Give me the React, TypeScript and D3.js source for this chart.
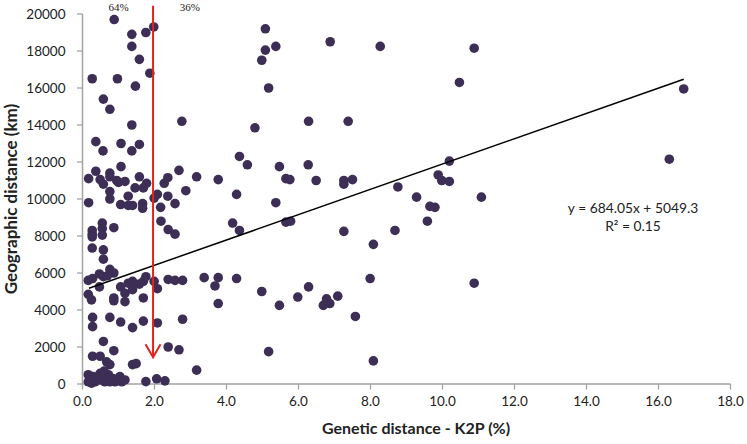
import React from "react";
import * as d3 from "d3";

// Genetic distance (K2P %) values
const geneticDistance: number[] = [
  0.88, 1.98, 1.37, 1.76, 1.37, 1.58, 1.87, 0.27, 0.97, 1.47,
  0.58, 0.76, 1.37, 2.76, 0.37, 1.07, 1.58, 0.57, 1.37, 1.07,
  0.37, 2.68, 0.17, 0.76, 0.49, 0.58, 0.76, 0.95, 1.0, 1.18,
  1.58, 1.46, 1.69, 1.78, 0.76, 1.27, 2.08, 2.27, 2.37, 2.37,
  2.87, 3.17, 3.77, 4.36, 4.58, 4.28, 0.17, 0.76, 1.06, 1.27,
  1.39, 1.67, 1.67, 1.99, 2.17, 2.57, 2.18, 2.38, 2.57, 4.17,
  4.36, 0.27, 0.27, 0.27, 0.55, 0.55, 0.55, 0.87, 0.27, 0.58,
  0.58, 0.76, 0.87, 0.47, 0.16, 0.28, 0.58, 0.69, 0.47, 1.06,
  1.27, 1.39, 1.18, 1.39, 1.58, 1.69, 1.76, 1.99, 2.08, 2.38,
  2.57, 2.78, 3.38, 3.68, 3.77, 4.28, 3.77, 0.16, 0.25, 0.87,
  0.87, 1.18, 1.69, 0.28, 0.28, 0.76, 1.06, 1.39, 1.69, 2.08,
  2.78, 0.58, 0.87, 2.38, 2.68, 0.28, 0.49, 0.67, 0.76, 1.39,
  1.49, 3.17, 1.76, 2.06, 2.29, 0.16, 0.16, 0.3, 0.35, 0.49,
  0.49, 0.62, 0.72, 0.76, 0.9, 1.04, 1.09, 1.18, 0.3, 0.6,
  0.85, 0.55, 0.25, 4.79, 5.47, 6.27, 5.65, 5.76, 6.49, 7.26,
  7.26, 7.5, 5.37, 5.65, 5.78, 7.26, 8.08, 8.68, 8.76, 5.08,
  5.08, 4.98, 5.37, 5.17, 6.88, 8.27, 10.47, 6.28, 7.38, 9.28,
  9.88, 9.98, 10.19, 10.19, 9.65, 9.79, 9.58, 4.98, 5.47, 5.98,
  6.28, 6.69, 6.78, 6.87, 7.09, 7.58, 7.99, 5.17, 8.08, 10.88,
  16.7, 11.08, 16.3, 10.88,
];

// Geographic distance (km) values
const geographicDistance: number[] = [
  19700, 19300, 18900, 19000, 18250, 17550, 16800, 16500, 16500, 16100,
  15400, 14850, 14000, 14200, 13100, 13000, 12950, 12600, 12600, 11750,
  11500, 11550, 11100, 11400, 11050, 10800, 11200, 11000, 10900, 10950,
  11200, 10600, 10600, 10850, 10400, 10150, 10250, 10850, 11150, 10150,
  10450, 11200, 11050, 12300, 11850, 10250, 9800, 10000, 9700, 9650,
  9650, 9750, 9500, 10050, 9550, 9750, 8800, 8350, 8100, 8700,
  8300, 8300, 8100, 7950, 8700, 8400, 8050, 8450, 7350, 7250,
  6750, 6200, 6000, 5950, 5600, 5700, 5800, 5850, 5250, 5250,
  5450, 5550, 4900, 5100, 5400, 5550, 5800, 5550, 5150, 5650,
  5600, 5600, 5750, 5300, 5750, 5700, 4350, 4850, 4550, 4650,
  4500, 4450, 4650, 3600, 3100, 3600, 3350, 3050, 3400, 3300,
  3500, 2300, 1800, 2000, 1850, 1500, 1500, 1200, 1050, 1050,
  1100, 750, 130, 280, 170, 500, 120, 400, 120, 580,
  220, 120, 500, 120, 120, 400, 120, 220, 250, 700,
  300, 400, 50, 13850, 11750, 11850, 11100, 11050, 11000, 11000,
  10800, 11050, 9800, 8750, 8800, 8250, 7550, 8300, 10650, 19200,
  18050, 17500, 18250, 16000, 18500, 18250, 16300, 14200, 14200, 10100,
  11300, 11000, 10950, 12050, 9600, 9550, 8800, 5000, 4250, 4700,
  5250, 4250, 4600, 4350, 4750, 3650, 5700, 1750, 1250, 18150,
  15950, 10100, 12150, 5450,
];

const xTicks: number[] = [0, 2, 4, 6, 8, 10, 12, 14, 16, 18];
const yTicks: number[] = [0, 2000, 4000, 6000, 8000, 10000, 12000, 14000, 16000, 18000, 20000];

const trendSlope = 684.05;
const trendIntercept = 5049.3;
const trendRange: number[] = [0.18, 16.7];

const arrowX = 1.96;
const arrowTopY = 20450;
const arrowTipY = 1450;

const shareLabels: string[] = ["64%", "36%"];
const shareLabelX: number[] = [1.0, 2.98];

const WIDTH = 747;
const HEIGHT = 444;

export default function App() {
  const x = d3.scaleLinear().domain([0, 18]).range([82.5, 730.5]);
  const y = d3.scaleLinear().domain([0, 20000]).range([384, 14]);

  const points = geneticDistance.map((gx, i) => ({ gx, gy: geographicDistance[i] }));

  const trendLine = d3
    .line<number>()
    .x((d) => x(d))
    .y((d) => y(trendSlope * d + trendIntercept))(trendRange);

  const axisColor = "#a3a3a3";
  const font = "Lato, 'Open Sans', sans-serif";
  const ax = x(arrowX);
  const tipY = y(arrowTipY);

  return (
    <svg
      width={WIDTH}
      height={HEIGHT}
      style={{ position: "absolute", left: 0, top: 0, background: "#fff" }}
    >
      <rect x={0} y={0} width={WIDTH} height={HEIGHT} fill="#fff" />
      {/* axes */}
      <line x1={x(0)} x2={x(0)} y1={y(20000)} y2={y(0)} stroke={axisColor} strokeWidth={1.5} />
      <line x1={x(0)} x2={x(18)} y1={y(0)} y2={y(0)} stroke={axisColor} strokeWidth={1.5} />
      {yTicks.map((t) => (
        <g key={"yt" + t}>
          <line x1={x(0) - 5.5} x2={x(0)} y1={y(t)} y2={y(t)} stroke={axisColor} strokeWidth={1.3} />
          <text
            x={x(0) - 17}
            y={y(t)}
            dy="0.35em"
            textAnchor="end"
            fontFamily={font}
            fontSize={13.5}
            fill="#222"
          >
            {t}
          </text>
        </g>
      ))}
      {xTicks.map((t) => (
        <g key={"xt" + t}>
          <line x1={x(t)} x2={x(t)} y1={y(0)} y2={y(0) + 5.5} stroke={axisColor} strokeWidth={1.3} />
          <text
            x={x(t)}
            y={y(0) + 22}
            textAnchor="middle"
            fontFamily={font}
            fontSize={13.5}
            fill="#222"
          >
            {t.toFixed(1)}
          </text>
        </g>
      ))}
      {/* points */}
      {points.map((p, i) => (
        <circle key={i} cx={x(p.gx)} cy={y(p.gy)} r={4.8} fill="#3d2e56" />
      ))}
      {/* trend line */}
      <path d={trendLine || ""} fill="none" stroke="#000" strokeWidth={1.5} />
      {/* red arrow */}
      <line x1={ax} x2={ax} y1={y(arrowTopY)} y2={tipY} stroke="#e0241f" strokeWidth={2} />
      <polyline
        points={`${ax - 7.5},${tipY - 13} ${ax},${tipY} ${ax + 7.5},${tipY - 13}`}
        fill="none"
        stroke="#e0241f"
        strokeWidth={2}
      />
      {/* share labels */}
      {shareLabels.map((s, i) => (
        <text
          key={s}
          x={x(shareLabelX[i])}
          y={11}
          textAnchor="middle"
          fontFamily="'Liberation Serif', 'Times New Roman', serif"
          fontSize={11}
          fill="#222"
        >
          {s}
        </text>
      ))}
      {/* equation */}
      <text x={633} y={213} textAnchor="middle" fontFamily={font} fontSize={13.8} fill="#222">
        y = 684.05x + 5049.3
      </text>
      <text x={633} y={231} textAnchor="middle" fontFamily={font} fontSize={13.8} fill="#222">
        R² = 0.15
      </text>
      {/* axis titles */}
      <text
        x={416}
        y={434}
        textAnchor="middle"
        fontFamily={font}
        fontWeight="bold"
        fontSize={16}
        fill="#222"
      >
        Genetic distance - K2P (%)
      </text>
      <text
        transform={`translate(17, ${(y(0) + y(20000)) / 2}) rotate(-90)`}
        textAnchor="middle"
        fontFamily={font}
        fontWeight="bold"
        fontSize={17}
        fill="#222"
      >
        Geographic distance (km)
      </text>
    </svg>
  );
}
